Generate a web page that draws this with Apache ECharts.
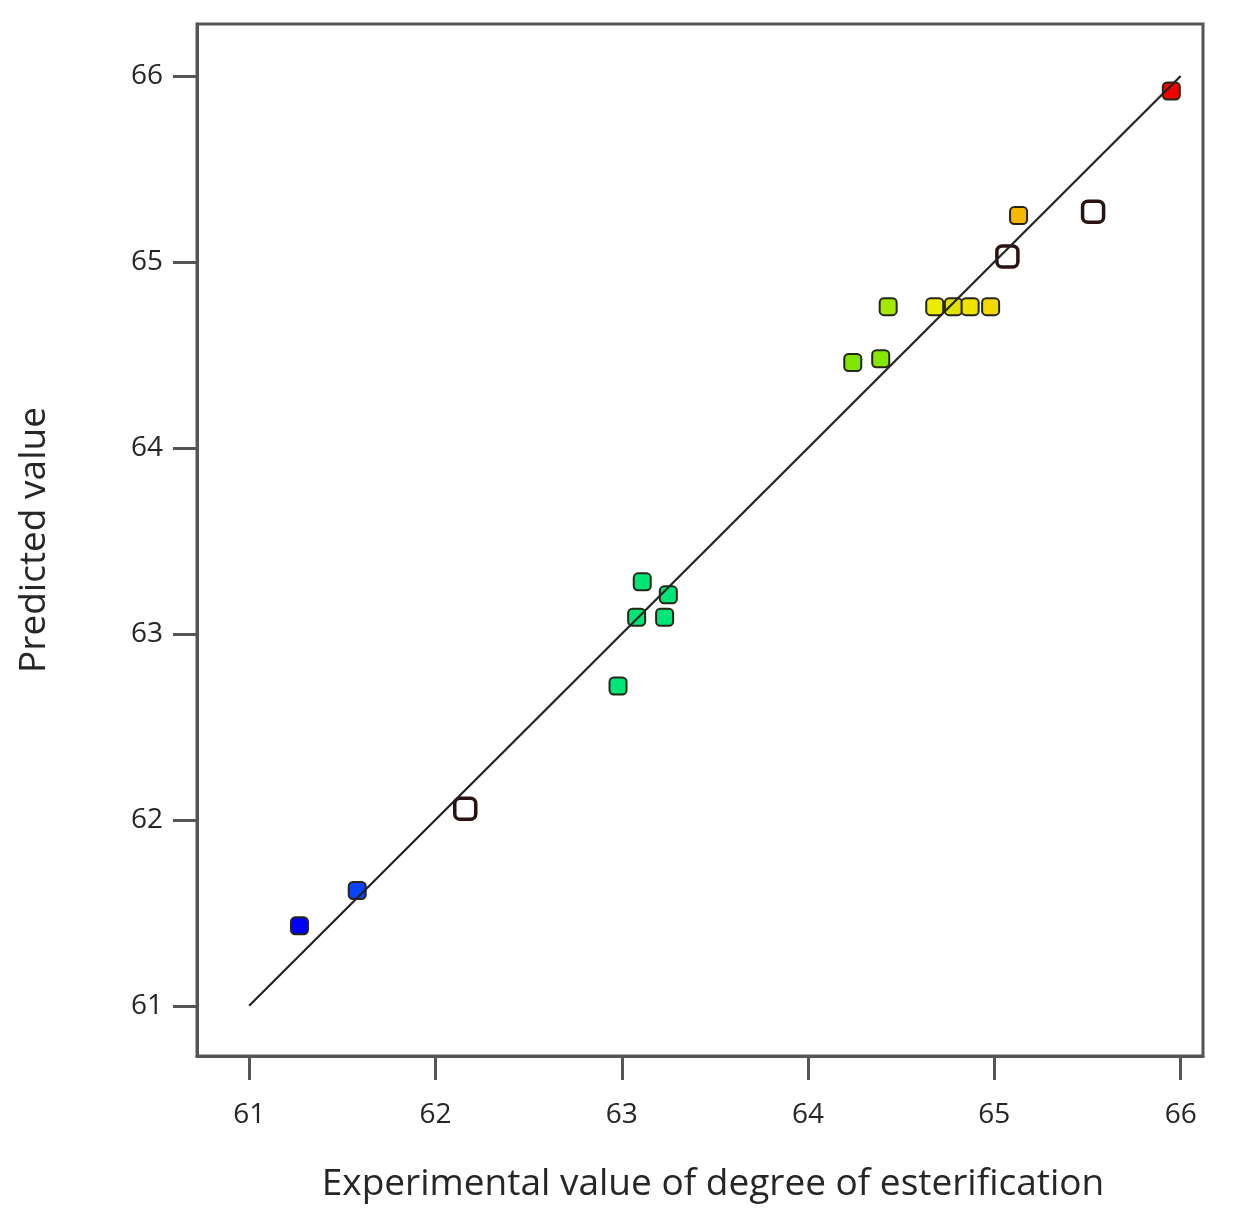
<!DOCTYPE html>
<html>
<head>
<meta charset="utf-8">
<script src="https://cdn.jsdelivr.net/npm/echarts@6/dist/echarts.min.js"></script>
<style>
  html, body { margin: 0; padding: 0; background: #fff; }
  #chart { width: 1244px; height: 1221px; }
</style>
</head>
<body>
<div id="chart"></div>
<script>
// Experimental (actual) vs predicted degree of esterification
const actualValues = [61.27, 61.58, 62.98, 63.08, 63.11, 63.23, 63.25, 64.24, 64.39, 64.43, 64.68, 64.78, 64.87, 64.98, 65.13, 65.95];
const predictedValues = [61.43, 61.62, 62.72, 63.09, 63.28, 63.09, 63.21, 64.46, 64.48, 64.76, 64.76, 64.76, 64.76, 64.76, 65.25, 65.92];
const pointColors = ['#0000f8', '#0a44ff', '#00e676', '#00e676', '#00e676', '#00e676', '#00e676', '#7ee600', '#86e800', '#a4ea00', '#ecec00', '#e2e200', '#eee400', '#f2da00', '#f8b800', '#f00000'];

// Runs drawn as open squares
const openActual = [62.16, 65.07, 65.53];
const openPredicted = [62.06, 65.03, 65.27];

// 45-degree reference line
const refLine = [[61, 61], [66, 66]];

const axisTicks = [61, 62, 63, 64, 65, 66];

const xTitle = 'Experimental value of degree of esterification';
const yTitle = 'Predicted value';

const chart = echarts.init(document.getElementById('chart'), null, { renderer: 'canvas' });

const filledPoints = actualValues.map((x, i) => ({
  value: [x, predictedValues[i]],
  itemStyle: { color: pointColors[i] }
}));
const openPoints = openActual.map((x, i) => [x, openPredicted[i]]);

const fontFamily = '"Open Sans", "Noto Sans", sans-serif';

const axisCommon = {
  type: 'value',
  interval: 1,
  splitLine: { show: false },
  axisLine: { show: true, lineStyle: { color: '#555', width: 3 } },
  axisTick: { show: true, inside: false, length: 24, lineStyle: { color: '#555', width: 3 },
              customValues: axisTicks },
  axisLabel: { color: '#262626', fontSize: 28, fontFamily: fontFamily, customValues: axisTicks,
               showMinLabel: true, showMaxLabel: true },
  nameLocation: 'middle',
  nameTextStyle: { color: '#262626', fontSize: 37, fontFamily: fontFamily }
};

chart.setOption({
  backgroundColor: '#fff',
  animation: false,
  grid: {
    left: 197, top: 24, right: 41, bottom: 165,
    show: true, borderColor: '#555', borderWidth: 3, backgroundColor: '#fff'
  },
  xAxis: Object.assign({}, axisCommon, {
    min: 60.72, max: 66.12,
    name: xTitle, nameGap: 110,
    nameTextStyle: Object.assign({}, axisCommon.nameTextStyle, { padding: [0, 0, 0, 26] }),
    axisLabel: Object.assign({}, axisCommon.axisLabel, { margin: 45 })
  }),
  yAxis: Object.assign({}, axisCommon, {
    min: 60.73, max: 66.28,
    name: yTitle, nameGap: 144,
    axisLabel: Object.assign({}, axisCommon.axisLabel, { margin: 34 })
  }),
  series: [
    {
      type: 'line',
      data: refLine,
      symbol: 'none',
      lineStyle: { color: '#222', width: 2.2 },
      z: 2
    },
    {
      type: 'scatter',
      data: openPoints,
      symbol: 'roundRect',
      symbolSize: 21,
      itemStyle: { color: '#fff', borderColor: '#2a1212', borderWidth: 3.5, opacity: 1 },
      z: 1
    },
    {
      type: 'scatter',
      data: filledPoints,
      symbol: 'roundRect',
      symbolSize: 17,
      itemStyle: { borderColor: '#262616', borderWidth: 2, opacity: 1 },
      z: 1
    }
  ]
});
</script>
</body>
</html>
